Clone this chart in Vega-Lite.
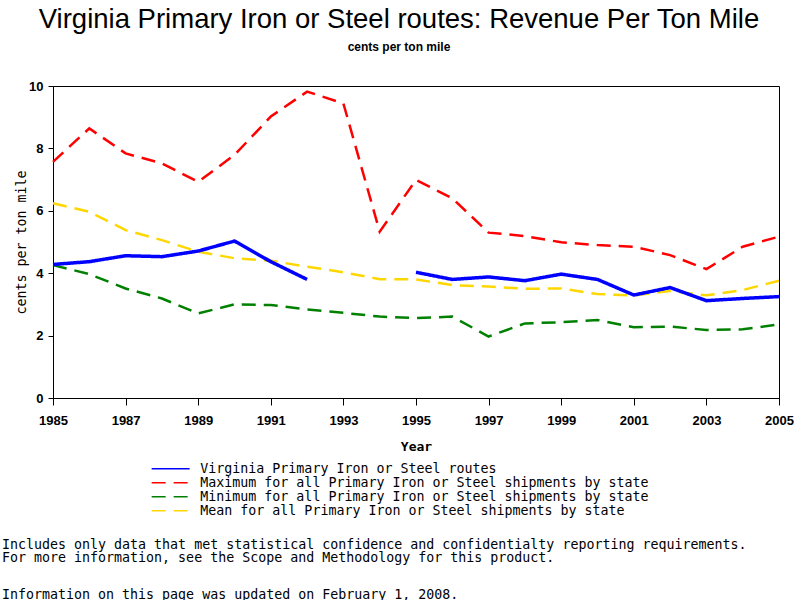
{
  "$schema": "https://vega.github.io/schema/vega-lite/v6.json",
  "background": "white",
  "padding": {"left": 2, "top": 6, "right": 0, "bottom": 0},
  "title": {
    "text": "Virginia Primary Iron or Steel routes: Revenue Per Ton Mile",
    "subtitle": "cents per ton mile",
    "font": "Liberation Sans",
    "fontSize": 27.5,
    "fontWeight": "normal",
    "color": "black",
    "subtitleFont": "Liberation Sans",
    "subtitleFontSize": 12,
    "subtitleFontWeight": "bold",
    "subtitleColor": "black",
    "subtitlePadding": 8,
    "anchor": "middle",
    "dx": 1,
    "offset": 27
  },
  "datasets": {
    "rates": [
      {"year": 1985, "Virginia Primary Iron or Steel routes": 4.28, "Maximum for all Primary Iron or Steel shipments by state": 7.57, "Minimum for all Primary Iron or Steel shipments by state": 4.26, "Mean for all Primary Iron or Steel shipments by state": 6.24},
      {"year": 1986, "Virginia Primary Iron or Steel routes": 4.37, "Maximum for all Primary Iron or Steel shipments by state": 8.64, "Minimum for all Primary Iron or Steel shipments by state": 3.97, "Mean for all Primary Iron or Steel shipments by state": 5.97},
      {"year": 1987, "Virginia Primary Iron or Steel routes": 4.56, "Maximum for all Primary Iron or Steel shipments by state": 7.84, "Minimum for all Primary Iron or Steel shipments by state": 3.51, "Mean for all Primary Iron or Steel shipments by state": 5.38},
      {"year": 1988, "Virginia Primary Iron or Steel routes": 4.53, "Maximum for all Primary Iron or Steel shipments by state": 7.52, "Minimum for all Primary Iron or Steel shipments by state": 3.19, "Mean for all Primary Iron or Steel shipments by state": 5.06},
      {"year": 1989, "Virginia Primary Iron or Steel routes": 4.71, "Maximum for all Primary Iron or Steel shipments by state": 6.93, "Minimum for all Primary Iron or Steel shipments by state": 2.71, "Mean for all Primary Iron or Steel shipments by state": 4.69},
      {"year": 1990, "Virginia Primary Iron or Steel routes": 5.03, "Maximum for all Primary Iron or Steel shipments by state": 7.79, "Minimum for all Primary Iron or Steel shipments by state": 3.0, "Mean for all Primary Iron or Steel shipments by state": 4.48},
      {"year": 1991, "Virginia Primary Iron or Steel routes": 4.37, "Maximum for all Primary Iron or Steel shipments by state": 9.02, "Minimum for all Primary Iron or Steel shipments by state": 2.98, "Mean for all Primary Iron or Steel shipments by state": 4.4},
      {"year": 1992, "Virginia Primary Iron or Steel routes": 3.8, "Maximum for all Primary Iron or Steel shipments by state": 9.82, "Minimum for all Primary Iron or Steel shipments by state": 2.84, "Mean for all Primary Iron or Steel shipments by state": 4.21},
      {"year": 1993, "Virginia Primary Iron or Steel routes": null, "Maximum for all Primary Iron or Steel shipments by state": 9.44, "Minimum for all Primary Iron or Steel shipments by state": 2.73, "Mean for all Primary Iron or Steel shipments by state": 4.03},
      {"year": 1994, "Virginia Primary Iron or Steel routes": null, "Maximum for all Primary Iron or Steel shipments by state": 5.33, "Minimum for all Primary Iron or Steel shipments by state": 2.61, "Mean for all Primary Iron or Steel shipments by state": 3.81},
      {"year": 1995, "Virginia Primary Iron or Steel routes": 4.03, "Maximum for all Primary Iron or Steel shipments by state": 6.99, "Minimum for all Primary Iron or Steel shipments by state": 2.56, "Mean for all Primary Iron or Steel shipments by state": 3.8},
      {"year": 1996, "Virginia Primary Iron or Steel routes": 3.8, "Maximum for all Primary Iron or Steel shipments by state": 6.4, "Minimum for all Primary Iron or Steel shipments by state": 2.61, "Mean for all Primary Iron or Steel shipments by state": 3.62},
      {"year": 1997, "Virginia Primary Iron or Steel routes": 3.88, "Maximum for all Primary Iron or Steel shipments by state": 5.3, "Minimum for all Primary Iron or Steel shipments by state": 1.97, "Mean for all Primary Iron or Steel shipments by state": 3.57},
      {"year": 1998, "Virginia Primary Iron or Steel routes": 3.76, "Maximum for all Primary Iron or Steel shipments by state": 5.19, "Minimum for all Primary Iron or Steel shipments by state": 2.39, "Mean for all Primary Iron or Steel shipments by state": 3.5},
      {"year": 1999, "Virginia Primary Iron or Steel routes": 3.97, "Maximum for all Primary Iron or Steel shipments by state": 4.99, "Minimum for all Primary Iron or Steel shipments by state": 2.43, "Mean for all Primary Iron or Steel shipments by state": 3.51},
      {"year": 2000, "Virginia Primary Iron or Steel routes": 3.8, "Maximum for all Primary Iron or Steel shipments by state": 4.9, "Minimum for all Primary Iron or Steel shipments by state": 2.5, "Mean for all Primary Iron or Steel shipments by state": 3.33},
      {"year": 2001, "Virginia Primary Iron or Steel routes": 3.3, "Maximum for all Primary Iron or Steel shipments by state": 4.85, "Minimum for all Primary Iron or Steel shipments by state": 2.27, "Mean for all Primary Iron or Steel shipments by state": 3.29},
      {"year": 2002, "Virginia Primary Iron or Steel routes": 3.54, "Maximum for all Primary Iron or Steel shipments by state": 4.58, "Minimum for all Primary Iron or Steel shipments by state": 2.29, "Mean for all Primary Iron or Steel shipments by state": 3.43},
      {"year": 2003, "Virginia Primary Iron or Steel routes": 3.12, "Maximum for all Primary Iron or Steel shipments by state": 4.13, "Minimum for all Primary Iron or Steel shipments by state": 2.18, "Mean for all Primary Iron or Steel shipments by state": 3.29},
      {"year": 2004, "Virginia Primary Iron or Steel routes": 3.19, "Maximum for all Primary Iron or Steel shipments by state": 4.85, "Minimum for all Primary Iron or Steel shipments by state": 2.2, "Mean for all Primary Iron or Steel shipments by state": 3.46},
      {"year": 2005, "Virginia Primary Iron or Steel routes": 3.25, "Maximum for all Primary Iron or Steel shipments by state": 5.17, "Minimum for all Primary Iron or Steel shipments by state": 2.36, "Mean for all Primary Iron or Steel shipments by state": 3.76}
    ],
    "notes": [
      {"line": 0, "text": "Includes only data that met statistical confidence and confidentialty reporting requirements."},
      {"line": 1, "text": "For more information, see the Scope and Methodology for this product."},
      {"line": 4, "text": "Information on this page was updated on February 1, 2008."}
    ]
  },
  "spacing": 84,
  "vconcat": [
    {
      "width": 726,
      "height": 312,
      "view": {"stroke": "black", "strokeWidth": 1},
      "data": {"name": "rates"},
      "transform": [
        {"fold": ["Virginia Primary Iron or Steel routes", "Maximum for all Primary Iron or Steel shipments by state", "Minimum for all Primary Iron or Steel shipments by state", "Mean for all Primary Iron or Steel shipments by state"], "as": ["series", "value"]}
      ],
      "encoding": {
        "x": {
          "field": "year", "type": "quantitative",
          "scale": {"domain": [1985, 2005], "nice": false, "zero": false},
          "axis": {"values": [1985, 1987, 1989, 1991, 1993, 1995, 1997, 1999, 2001, 2003, 2005], "format": "d", "grid": false, "title": "Year",
            "titleFont": "DejaVu Sans Mono", "titleFontSize": 13, "titleFontWeight": "bold", "titleColor": "black", "titlePadding": 13,
            "labelFont": "Liberation Sans", "labelFontSize": 13, "labelFontWeight": "bold", "labelColor": "black", "labelPadding": 9,
            "tickSize": 7, "tickColor": "black", "domainColor": "black", "labelFlush": false, "labelOverlap": false}
        },
        "y": {
          "field": "value", "type": "quantitative",
          "scale": {"domain": [0, 10], "nice": false},
          "axis": {"values": [0, 2, 4, 6, 8, 10], "grid": false, "title": "cents per ton mile",
            "titleFont": "DejaVu Sans Mono", "titleFontSize": 13.3, "titleFontWeight": "normal", "titleColor": "black", "titlePadding": 0,
            "labelFont": "Liberation Sans", "labelFontSize": 13, "labelFontWeight": "bold", "labelColor": "black", "labelPadding": 5,
            "tickSize": 5, "tickColor": "black", "domainColor": "black"}
        },
        "color": {
          "field": "series", "type": "nominal",
          "scale": {"domain": ["Virginia Primary Iron or Steel routes", "Maximum for all Primary Iron or Steel shipments by state", "Minimum for all Primary Iron or Steel shipments by state", "Mean for all Primary Iron or Steel shipments by state"], "range": ["#0000ff", "#ff0000", "#008000", "#ffd700"]},
          "legend": {"title": null, "orient": "none", "legendX": 111, "legendY": 376, "symbolType": "M-4.75,0H4.75", "symbolSize": 64, "symbolStrokeWidth": 1.5, "labelFont": "DejaVu Sans Mono", "labelFontSize": 13.3, "labelColor": "black", "labelOffset": 23, "labelLimit": 700, "rowPadding": 0}
        },
        "strokeDash": {
          "field": "series", "type": "nominal",
          "scale": {"domain": ["Virginia Primary Iron or Steel routes", "Maximum for all Primary Iron or Steel shipments by state", "Minimum for all Primary Iron or Steel shipments by state", "Mean for all Primary Iron or Steel shipments by state"], "range": [[1, 0], [14, 8], [14, 8], [14, 8]]},
          "legend": {"title": null, "orient": "none", "legendX": 111, "legendY": 376, "symbolType": "M-4.75,0H4.75", "symbolSize": 64, "symbolStrokeWidth": 1.5, "labelFont": "DejaVu Sans Mono", "labelFontSize": 13.3, "labelColor": "black", "labelOffset": 23, "labelLimit": 700, "rowPadding": 0}
        }
      },
      "layer": [
        {
          "transform": [{"filter": "datum.series !== 'Virginia Primary Iron or Steel routes'"}],
          "mark": {"type": "line", "strokeWidth": 2.5, "strokeCap": "butt"}
        },
        {
          "transform": [{"filter": "datum.series === 'Virginia Primary Iron or Steel routes'"}],
          "mark": {"type": "line", "strokeWidth": 3.5, "strokeCap": "butt", "invalid": "break-paths-filter-domains"}
        }
      ]
    },
    {
      "width": 726,
      "height": 50,
      "view": {"stroke": null},
      "data": {"name": "notes"},
      "mark": {"type": "text", "align": "left", "baseline": "middle", "font": "DejaVu Sans Mono", "fontSize": 13.3, "color": "black", "dx": -51},
      "encoding": {
        "x": {"datum": 0, "type": "quantitative", "scale": {"domain": [0, 1]}, "axis": null},
        "y": {"field": "line", "type": "quantitative", "scale": {"domain": [0, 4], "nice": false, "reverse": true}, "axis": null},
        "text": {"field": "text"}
      }
    }
  ]
}
